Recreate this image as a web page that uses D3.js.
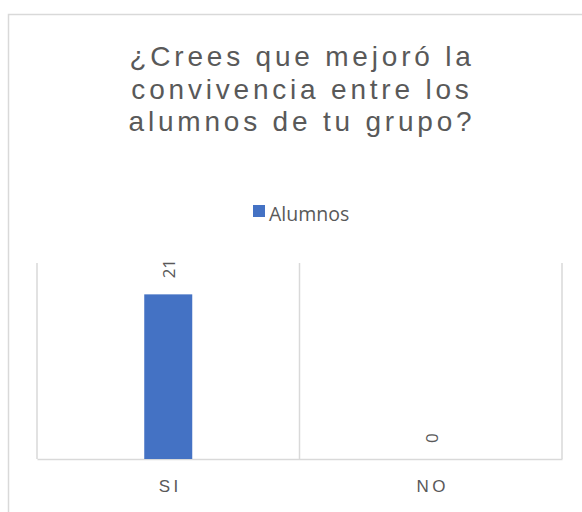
<!DOCTYPE html>
<html>
<head>
<meta charset="utf-8">
<script src="https://cdn.jsdelivr.net/npm/d3@7/dist/d3.min.js"></script>
<style>
  html, body { margin: 0; padding: 0; background: #fff; }
  svg { display: block; }
  text { font-family: "Liberation Sans", Arial, sans-serif; fill: #595959; }
</style>
</head>
<body>
<svg id="chart" width="582" height="512"></svg>
<script>
// Survey answers
const categories = ["SI", "NO"];
const alumnos = [21, 0];
const seriesName = "Alumnos";
const titleLines = ["¿Crees que mejoró la", "convivencia entre los", "alumnos de tu grupo?"];
const yMax = 25;

const svg = d3.select("#chart");
const plot = { left: 37, right: 562, top: 263, bottom: 459 };

// Chart frame
svg.append("rect")
  .attr("x", 8.5).attr("y", 14.5)
  .attr("width", 584).attr("height", 520)
  .attr("fill", "#fff")
  .attr("stroke", "#d9d9d9").attr("stroke-width", 1.5);

// Title
svg.append("g").selectAll("text")
  .data(titleLines)
  .join("text")
  .attr("x", 302)
  .attr("y", (d, i) => 66 + i * 32.5)
  .attr("text-anchor", "middle")
  .style("font-size", "28px")
  .style("letter-spacing", "3.8px")
  .text(d => d);

// Legend
const legend = svg.append("g");
legend.append("rect")
  .attr("x", 253).attr("y", 205)
  .attr("width", 12).attr("height", 12)
  .attr("fill", "#4472c4");
legend.append("text")
  .attr("x", 269).attr("y", 221)
  .style("font-family", "'Open Sans', 'Liberation Sans', sans-serif")
  .style("font-size", "19.5px")
  .text(seriesName);

const x = d3.scaleBand()
  .domain(categories)
  .range([plot.left, plot.right])
  .paddingInner(0)
  .paddingOuter(0);

const y = d3.scaleLinear()
  .domain([0, yMax])
  .range([plot.bottom, plot.top]);

// Vertical category separators
const seps = [plot.left, ...categories.slice(1).map(c => x(c)), plot.right];
svg.append("g").selectAll("line")
  .data(seps)
  .join("line")
  .attr("x1", d => d).attr("x2", d => d)
  .attr("y1", plot.top).attr("y2", plot.bottom)
  .attr("stroke", "#d9d9d9").attr("stroke-width", 1.5);

// Category axis
const xAxis = svg.append("g")
  .attr("transform", `translate(0,${plot.bottom})`)
  .call(d3.axisBottom(x).tickSize(0).tickPadding(21));
xAxis.select(".domain").attr("stroke", "#d9d9d9").attr("stroke-width", 1.5);
xAxis.selectAll("text")
  .style("font-family", "'Liberation Sans', Arial, sans-serif")
  .style("font-size", "17px")
  .style("letter-spacing", "3.5px")
  .attr("dx", "2px")
  .attr("fill", "#595959");

// Bars
const barW = 48;
svg.append("g").selectAll("rect")
  .data(categories)
  .join("rect")
  .attr("x", (d) => x(d) + x.bandwidth() / 2 - barW / 2)
  .attr("y", (d, i) => y(alumnos[i]))
  .attr("width", barW)
  .attr("height", (d, i) => y(0) - y(alumnos[i]))
  .attr("fill", "#4472c4");

// Value labels, rotated
svg.append("g").selectAll("text")
  .data(categories)
  .join("text")
  .attr("transform", (d, i) => {
    const cx = x(d) + x.bandwidth() / 2 + 7;
    const cy = y(alumnos[i]) - 16;
    return `translate(${cx},${cy}) rotate(-90)`;
  })
  .attr("text-anchor", "start")
  .style("font-family", "'Open Sans', 'Liberation Sans', sans-serif")
  .style("font-size", "17px")
  .text((d, i) => alumnos[i]);
</script>
</body>
</html>
